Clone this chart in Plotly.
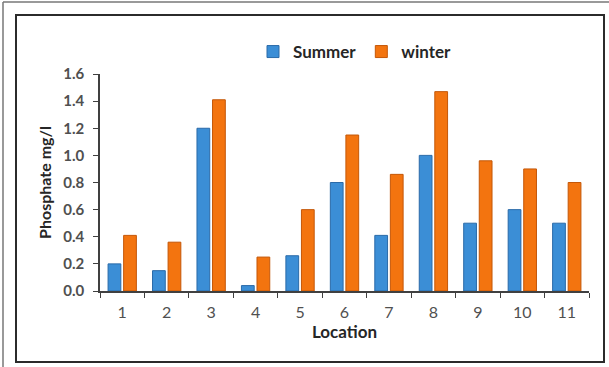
import plotly.graph_objects as go

locations = ["1", "2", "3", "4", "5", "6", "7", "8", "9", "10", "11"]
summer = [0.20, 0.15, 1.20, 0.04, 0.26, 0.80, 0.41, 1.00, 0.50, 0.60, 0.50]
winter = [0.41, 0.36, 1.41, 0.25, 0.60, 1.15, 0.86, 1.47, 0.96, 0.90, 0.80]
y_ticks = [0.0, 0.2, 0.4, 0.6, 0.8, 1.0, 1.2, 1.4, 1.6]

W, H = 609, 367
L, R, T, B = 100, 20, 74, 76
PW, PH = W - L - R, H - T - B


def px(x):
    return (x - L) / PW


def py(y):
    return (H - B - y) / PH


FONT = "Lato, 'Open Sans', sans-serif"

fig = go.Figure()
fig.add_trace(go.Bar(
    name="Summer", x=locations, y=summer,
    marker=dict(color="#3b8ed6", line=dict(color="#2a6aa8", width=1)),
))
fig.add_trace(go.Bar(
    name="winter", x=locations, y=winter,
    marker=dict(color="#f3740f", line=dict(color="#c45708", width=1)),
))

# frame lines around the figure
shapes = [
    dict(type="rect", xref="paper", yref="paper",
         x0=px(16), x1=px(604), y0=py(362), y1=py(15),
         line=dict(color="#2b2b2b", width=2), layer="below"),
    dict(type="line", xref="paper", yref="paper",
         x0=px(3), x1=px(3), y0=py(367), y1=py(2),
         line=dict(color="#777777", width=1.5)),
    dict(type="line", xref="paper", yref="paper",
         x0=px(3), x1=px(609), y0=py(2), y1=py(2),
         line=dict(color="#777777", width=1.5)),
]

fig.update_layout(
    width=W, height=H,
    margin=dict(l=L, r=R, t=T, b=B, autoexpand=False),
    paper_bgcolor="white", plot_bgcolor="white",
    barmode="group", bargap=0.30, bargroupgap=0.18,
    font=dict(family=FONT, color="#404040"),
    shapes=shapes,
    legend=dict(
        orientation="h", x=px(253), xanchor="left", y=py(52), yanchor="middle",
        font=dict(size=17, family=FONT, color="#262626", weight="bold"),
        itemwidth=30, traceorder="normal", bgcolor="rgba(0,0,0,0)",
    ),
    xaxis=dict(
        type="category", tickson="boundaries", ticks="outside", ticklen=5,
        tickcolor="#404040", showline=True, linecolor="#404040", linewidth=1.5,
        tickfont=dict(size=16, color="#505050"), ticklabelstandoff=6,
        title=dict(text="<b>Location</b>", font=dict(size=17, color="#262626"), standoff=6),
        showgrid=False,
    ),
    yaxis=dict(
        range=[0, 1.6], tickvals=y_ticks, ticktext=[f"{v:.1f}" for v in y_ticks],
        ticks="outside", ticklen=5, tickcolor="#404040",
        showline=True, linecolor="#404040", linewidth=1.5,
        tickfont=dict(size=15, color="#505050", weight="bold"), ticklabelstandoff=6,
        title=dict(text="<b>Phosphate mg/l</b>", font=dict(size=16, color="#262626"), standoff=8),
        showgrid=False, zeroline=False,
    ),
)

fig.write_html("out.html")
